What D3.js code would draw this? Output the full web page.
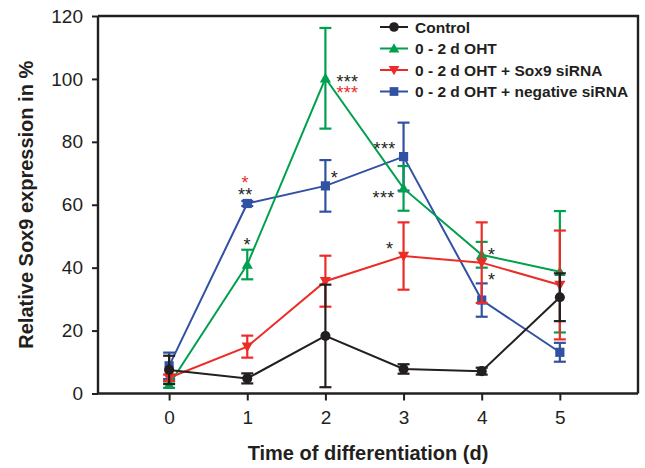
<!DOCTYPE html>
<html>
<head>
<meta charset="utf-8">
<script src="https://cdn.jsdelivr.net/npm/d3@7"></script>
<style>
  html, body { margin: 0; padding: 0; background: #fff; }
  svg { display: block; font-family: "Liberation Sans", Arial, Helvetica, sans-serif; }
</style>
</head>
<body>
<svg id="chart" width="645" height="468"></svg>
<script>
// Days of differentiation
const days = [0, 1, 2, 3, 4, 5];
const xTicks = [0, 1, 2, 3, 4, 5];
const yTicks = [0, 20, 40, 60, 80, 100, 120];

// Relative Sox9 expression (%) and standard deviations
const controlMean = [7.5, 4.8, 18.3, 7.8, 7.1, 30.6];
const controlErr  = [4.5, 1.6, 16.3, 1.5, 1.1, 7.6];
const ohtMean     = [2.8, 41.0, 100.2, 65.2, 44.1, 38.7];
const ohtErr      = [1.0, 4.7, 16.0, 7.1, 4.1, 19.3];
const sox9Mean    = [5.0, 14.9, 35.7, 43.7, 41.6, 34.5];
const sox9Err     = [1.0, 3.5, 8.1, 10.7, 12.8, 17.3];
const negMean     = [8.8, 60.4, 66.0, 75.3, 29.7, 13.1];
const negErr      = [4.2, 0.8, 8.2, 10.8, 5.3, 3.0];

const seriesNames = ["Control", "0 - 2 d OHT", "0 - 2 d OHT + Sox9 siRNA", "0 - 2 d OHT + negative siRNA"];
const seriesColors = ["#231f20", "#00a04e", "#ee2c27", "#3151a3"];
const seriesShapes = ["circle", "triangleUp", "triangleDown", "square"];

// Significance marks
const sigDays   = [1, 1, 1, 2, 2, 2, 3, 3, 3, 4, 4];
const sigValues = [68.5, 64.5, 48.5, 100.5, 97.0, 70.0, 79.0, 63.5, 47.5, 45.5, 37.5];
const sigTexts  = ["*", "**", "*", "***", "***", "*", "***", "***", "*", "*", "*"];
const sigColors = ["red", "black", "black", "black", "red", "black", "black", "black", "black", "black", "black"];
const sigOffsets = [-2, -2, 0, 22, 22, 9, -19, -20, -14, 10, 10];

const svg = d3.select("#chart");
const plotLeft = 98, plotRight = 638, plotTop = 16, plotBottom = 393.5;

const x = d3.scaleLinear().domain([-0.91, 6]).range([plotLeft, plotRight]);
const y = d3.scaleLinear().domain([0, 120]).range([plotBottom, plotTop]);

const ink = "#231f20";

// Frame (top and right edges)
svg.append("path")
  .attr("d", `M${plotLeft},${plotTop}H${plotRight}V${plotBottom}`)
  .attr("fill", "none").attr("stroke", ink).attr("stroke-width", 2.4);

// Axes
const yAxis = d3.axisLeft(y).tickValues(yTicks).tickFormat(d3.format("d"))
  .tickSize(6).tickPadding(9).tickSizeOuter(0);
const xAxis = d3.axisBottom(x).tickValues(xTicks).tickFormat(d3.format("d"))
  .tickSize(7).tickPadding(10).tickSizeOuter(0);

const gy = svg.append("g").attr("transform", `translate(${plotLeft},0)`).call(yAxis);
const gx = svg.append("g").attr("transform", `translate(0,${plotBottom})`).call(xAxis);
[gx, gy].forEach(g => {
  g.select(".domain").attr("stroke", ink).attr("stroke-width", 2.4);
  g.selectAll(".tick line").attr("stroke", ink).attr("stroke-width", 2);
  g.selectAll(".tick text").attr("fill", ink).style("font-size", "19px")
    .style("font-family", "'Liberation Sans', Arial, sans-serif");
});
gy.select(".domain").attr("d", `M0,${plotTop}V${plotBottom}`);
gx.select(".domain").attr("d", `M${plotLeft},0H${plotRight}`);

// Axis titles
svg.append("text")
  .attr("x", (plotLeft + plotRight) / 2).attr("y", 460)
  .attr("text-anchor", "middle")
  .attr("fill", ink)
  .style("font-size", "20px").style("font-weight", "bold")
  .text("Time of differentiation (d)");

svg.append("text")
  .attr("transform", `translate(33,${(plotTop + plotBottom) / 2}) rotate(-90)`)
  .attr("text-anchor", "middle")
  .attr("fill", ink)
  .style("font-size", "20px").style("font-weight", "bold")
  .text("Relative Sox9 expression in %");

function markerPath(shape) {
  if (shape === "circle") return d3.symbol(d3.symbolCircle, 80)();
  if (shape === "square") return "M-4.6,-4.6H4.6V4.6H-4.6Z";
  if (shape === "triangleUp") return "M0,-5.6L5.6,4.2H-5.6Z";
  return "M0,5.6L5.6,-4.2H-5.6Z";
}

const means = [controlMean, ohtMean, sox9Mean, negMean];
const errs = [controlErr, ohtErr, sox9Err, negErr];
const drawOrder = [3, 1, 2, 0];
const cap = 6;

drawOrder.forEach(si => {
  const color = seriesColors[si];
  const pts = days.map((d, i) => ({ d, m: means[si][i], e: errs[si][i] }));
  const g = svg.append("g");

  g.append("path")
    .datum(pts)
    .attr("fill", "none")
    .attr("stroke", color)
    .attr("stroke-width", 2)
    .attr("d", d3.line().x(p => x(p.d)).y(p => y(p.m)));

  const eb = g.selectAll(".eb").data(pts).enter().append("g");
  eb.append("line")
    .attr("x1", p => x(p.d)).attr("x2", p => x(p.d))
    .attr("y1", p => y(p.m + p.e)).attr("y2", p => y(Math.max(0, p.m - p.e)))
    .attr("stroke", color).attr("stroke-width", 2.2);
  eb.append("line")
    .attr("x1", p => x(p.d) - cap).attr("x2", p => x(p.d) + cap)
    .attr("y1", p => y(p.m + p.e)).attr("y2", p => y(p.m + p.e))
    .attr("stroke", color).attr("stroke-width", 2.2);
  eb.append("line")
    .attr("x1", p => x(p.d) - cap).attr("x2", p => x(p.d) + cap)
    .attr("y1", p => y(Math.max(0, p.m - p.e))).attr("y2", p => y(Math.max(0, p.m - p.e)))
    .attr("stroke", color).attr("stroke-width", 2.2);

  g.selectAll(".mk").data(pts).enter().append("path")
    .attr("d", markerPath(seriesShapes[si]))
    .attr("transform", p => `translate(${x(p.d)},${y(p.m)})`)
    .attr("fill", color);
});

// Significance asterisks
const sigFill = { red: "#ee2c27", black: "#231f20" };
sigTexts.forEach((t, i) => {
  svg.append("text")
    .attr("x", x(sigDays[i]) + sigOffsets[i])
    .attr("y", y(sigValues[i]) + 10.5)
    .attr("text-anchor", "middle")
    .attr("fill", sigFill[sigColors[i]])
    .style("font-size", "18px")
    .style("letter-spacing", "0.3px")
    .text(t);
});

// Legend
const legend = svg.append("g").attr("transform", "translate(380,27)");
seriesNames.forEach((name, i) => {
  const row = legend.append("g").attr("transform", `translate(0,${i * 21.5})`);
  row.append("line").attr("x1", 0).attr("x2", 28).attr("y1", 0).attr("y2", 0)
    .attr("stroke", seriesColors[i]).attr("stroke-width", 2);
  row.append("path").attr("d", markerPath(seriesShapes[i]))
    .attr("transform", "translate(14,0) scale(0.95)")
    .attr("fill", seriesColors[i]);
  row.append("text").attr("x", 35).attr("y", 5.5)
    .attr("fill", ink)
    .style("font-size", "15.5px").style("font-weight", "bold")
    .text(name);
});
</script>
</body>
</html>
